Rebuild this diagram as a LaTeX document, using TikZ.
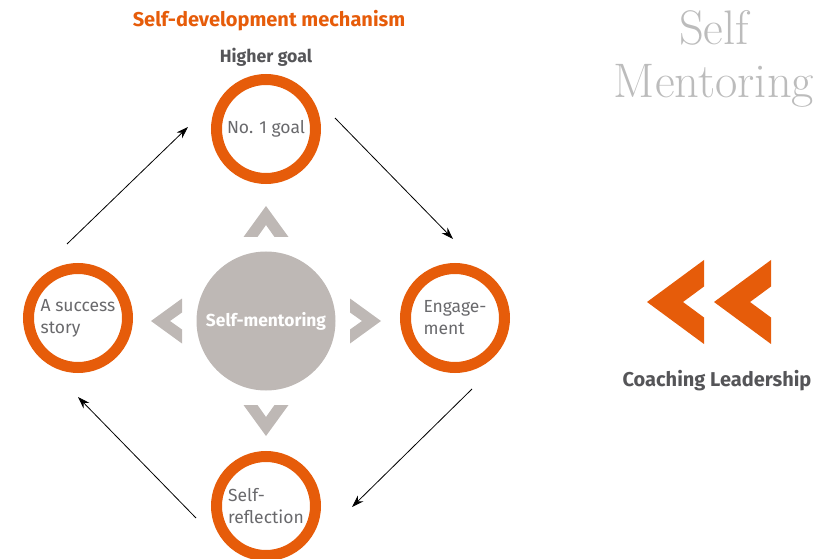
\documentclass[tikz,border=0pt]{standalone}
\usepackage{fontspec}
\setmainfont{Fira Sans}
\newfontfamily\bookfont{Latin Modern Roman}
\usetikzlibrary{arrows.meta}
\definecolor{mentorange}{RGB}{230,92,10}
\definecolor{coregray}{RGB}{190,184,181}
\definecolor{labelgray}{RGB}{105,105,108}
\definecolor{headgray}{RGB}{85,85,88}
\definecolor{titlegray}{RGB}{188,188,188}
\tikzset{
  ring/.style={circle, draw=mentorange, line width=11pt, minimum size=99pt, inner sep=0pt,
    align=left, text=labelgray, font=\fontsize{17.5}{22}\selectfont},
  core/.style={circle, fill=coregray, minimum size=139pt, inner sep=0pt, text=white,
    font=\fontsize{17.4}{20}\selectfont\bfseries},
  flow/.style={-{Stealth[length=12pt,width=8pt]}, line width=0.8pt},
  chev/.style={fill=coregray},
  bigword/.style={anchor=base, text=titlegray, font=\bookfont\fontsize{48.5}{56}\selectfont},
}
\begin{document}
\begin{tikzpicture}[x=1pt,y=-1pt]
  \useasboundingbox (0,0) rectangle (815,559);
  % the loop
  \node[core] (mentor) at (266,321) {Self-mentoring};
  \node[ring] (goal) at (266,129) {No. 1 goal};
  \node[ring] (engage) at (455,318) {Engage-\\ment};
  \node[ring] (reflect) at (266,506) {Self-\\reflection};
  \node[ring] (story) at (78,318) {A success\\story};
  \node[font=\fontsize{20}{24}\selectfont\bfseries, text=mentorange] (title) at (269,21) {Self-development mechanism};
  \node[font=\fontsize{17.7}{21}\selectfont\bfseries, text=headgray] (higher) at (266,57) {Higher goal};
  % chevrons round the core
  \foreach \ang in {0,90,180,270}
    \fill[chev, shift={(mentor.center)}, rotate=\ang]
      (0,-115) -- (22.5,-84) -- (8.5,-84) -- (0,-96) -- (-8.5,-84) -- (-22.5,-84) -- cycle;
  % arrows
  \coordinate (a1) at (67,244);  \coordinate (b1) at (188,127);
  \coordinate (a2) at (335,118); \coordinate (b2) at (453,239);
  \coordinate (a3) at (472,389); \coordinate (b3) at (352,507);
  \coordinate (a4) at (196,518); \coordinate (b4) at (78,397);
  \draw[flow] (a1) -- (b1);
  \draw[flow] (a2) -- (b2);
  \draw[flow] (a3) -- (b3);
  \draw[flow] (a4) -- (b4);
  % right side
  \node[bigword] (self) at (714,45) {Self};
  \node[bigword] (mentoring) at (714,98) {Mentoring};
  \foreach \dx in {0,67}
    \fill[mentorange, shift={(\dx,0)}]
      (647,302) -- (704,260) -- (704,286.5) -- (683,302) -- (704,317.5) -- (704,344) -- cycle;
  \node[font=\fontsize{20}{24}\selectfont\bfseries, text=headgray] (coach) at (717,381) {Coaching Leadership};
\end{tikzpicture}
\end{document}
